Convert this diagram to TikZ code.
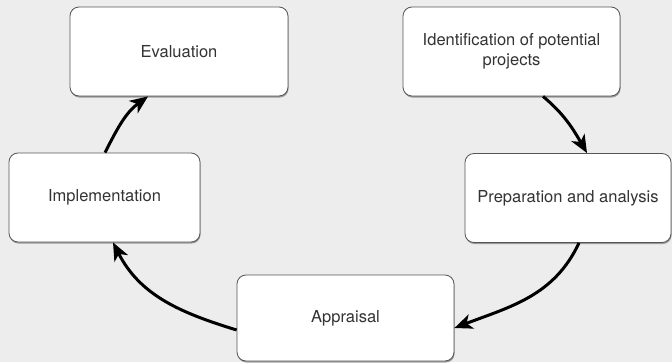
\documentclass[tikz,border=0pt]{standalone}
\usepackage{fontspec}
\setmainfont{TeX Gyre Heros}
\usetikzlibrary{arrows.meta,shadows,backgrounds}
\definecolor{bgc}{HTML}{EDEDED}
\definecolor{txt}{HTML}{333333}
\definecolor{brd}{HTML}{555555}
\begin{document}
\begin{tikzpicture}[x=1pt,y=1pt,
  stagebox/.style={draw=brd, line width=0.8pt, fill=white, rounded corners=9pt,
    inner sep=0pt, align=center, text=txt,
    font=\fontsize{16.5}{20.5}\selectfont,
    drop shadow={shadow xshift=0.6pt, shadow yshift=-1.6pt, opacity=0.35, fill=black}},
  flow/.style={line width=3pt, draw=black,
    -{Stealth[length=18pt,width=15pt,inset=5pt]}}]
\fill[bgc] (0,0) rectangle (672,362);
\useasboundingbox (0,0) rectangle (672,362);
\node[stagebox, minimum width=218pt, minimum height=89pt] (eval) at (179,310.5) {Evaluation};
\node[stagebox, minimum width=217pt, minimum height=89pt] (ident) at (511.5,310.5) {Identification of potential\\projects};
\node[stagebox, minimum width=191pt, minimum height=89pt] (impl) at (104.5,164.5) {Implementation};
\node[stagebox, minimum width=206pt, minimum height=89pt] (prep) at (568,164) {Preparation and analysis};
\node[stagebox, minimum width=217pt, minimum height=86pt] (appr) at (345.5,44) {Appraisal};
\draw[flow] ([xshift=0.5pt]impl.north) to[out=63,in=216] ([xshift=-31pt]eval.south);
\draw[flow] ([xshift=31.5pt]ident.south) to[out=-40,in=120] ([xshift=19pt]prep.south |- prep.north);
\draw[flow] ([xshift=11pt]prep.south) to[out=-115,in=21] ([yshift=-10pt]appr.east);
\draw[flow] ([yshift=-12pt]appr.west) to[out=163,in=-63] ([xshift=8.5pt]impl.south);
\end{tikzpicture}
\end{document}
